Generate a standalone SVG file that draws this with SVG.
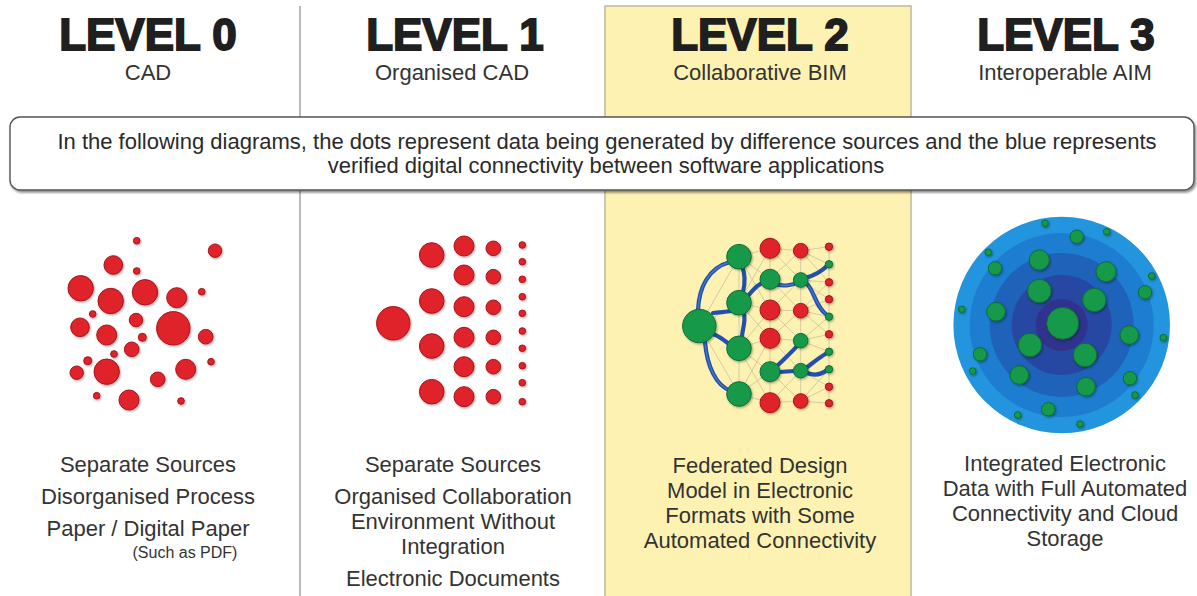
<svg xmlns="http://www.w3.org/2000/svg" width="1197" height="596" viewBox="0 0 1197 596">
  <style>
    .head { font-family: "Liberation Sans", Arial, sans-serif; font-weight: bold; font-size: 44px; fill: #1f1f1f; stroke: #1f1f1f; stroke-width: 1.8px; text-anchor: middle; }
    .sub { font-family: "Liberation Sans", Arial, sans-serif; font-size: 22px; fill: #333; text-anchor: middle; }
    .body { font-family: "Liberation Sans", Arial, sans-serif; font-size: 22px; fill: #333; text-anchor: middle; }
    .small { font-family: "Liberation Sans", Arial, sans-serif; font-size: 16px; fill: #333; text-anchor: middle; }
    .note { font-family: "Liberation Sans", Arial, sans-serif; font-size: 22px; fill: #2a2a2a; text-anchor: middle; }
    .divider { stroke: #a3a3a3; stroke-width: 1.5; }
    .red { fill: #e0222b; stroke: #a5161c; stroke-width: 1; }
    .green { fill: #17994a; stroke: #0f6e33; stroke-width: 1; }
    .mesh { stroke: #c9c2a0; stroke-width: 0.8; fill: none; }
    .link { stroke: #2350ab; stroke-width: 4.2; fill: none; stroke-linecap: round; }
    .linkhi { stroke: #4a82d6; stroke-width: 1.3; fill: none; stroke-linecap: round; opacity: 0.8; }
  </style>
  <defs>
    <filter id="dotShadow" x="-30%" y="-30%" width="160%" height="160%">
      <feDropShadow dx="1" dy="1.2" stdDeviation="1" flood-color="#000" flood-opacity="0.35"/>
    </filter>
    <filter id="boxShadow" x="-5%" y="-20%" width="110%" height="150%">
      <feDropShadow dx="1.5" dy="2" stdDeviation="1.2" flood-color="#000" flood-opacity="0.45"/>
    </filter>
  </defs>

  <!-- background and column dividers -->
  <rect width="1197" height="596" fill="#ffffff"/>
  <rect id="level2-band" x="605" y="6" width="306" height="592" fill="#fdf2b2" stroke="#bdb89c" stroke-width="1.5"/>
  <line class="divider" x1="300" y1="6" x2="300" y2="596"/>

  <!-- column headings -->
  <g id="headings">
    <text class="head" x="148" y="50">LEVEL 0</text>
    <text class="sub" x="148" y="80">CAD</text>
    <text class="head" x="455" y="50">LEVEL 1</text>
    <text class="sub" x="452" y="80">Organised CAD</text>
    <text class="head" x="760" y="50">LEVEL 2</text>
    <text class="sub" x="760" y="80">Collaborative BIM</text>
    <text class="head" x="1066" y="50">LEVEL 3</text>
    <text class="sub" x="1065" y="80">Interoperable AIM</text>
  </g>

  <!-- explanatory banner -->
  <g id="banner">
    <rect x="10" y="117" width="1184" height="73" rx="10" fill="#ffffff" stroke="#555" stroke-width="1.4" filter="url(#boxShadow)"/>
    <text class="note" x="607" y="149">In the following diagrams, the dots represent data being generated by difference sources and the blue represents</text>
    <text class="note" x="606" y="173">verified digital connectivity between software applications</text>
  </g>

  <!-- Level 0: scattered sources -->
  <g id="level0-dots" filter="url(#dotShadow)">
    <circle class="red" cx="136.7" cy="240.7" r="3.3"/>
    <circle class="red" cx="215" cy="250.7" r="6.7"/>
    <circle class="red" cx="113.3" cy="265" r="9.3"/>
    <circle class="red" cx="136.7" cy="271" r="3.3"/>
    <circle class="red" cx="80.7" cy="288.3" r="12.7"/>
    <circle class="red" cx="110.7" cy="301" r="12.7"/>
    <circle class="red" cx="145" cy="292.3" r="12.7"/>
    <circle class="red" cx="176.7" cy="297.7" r="10"/>
    <circle class="red" cx="201.7" cy="291.7" r="3.3"/>
    <circle class="red" cx="92.7" cy="314" r="3.3"/>
    <circle class="red" cx="136" cy="320" r="6.7"/>
    <circle class="red" cx="173.3" cy="328.3" r="16.7"/>
    <circle class="red" cx="80" cy="327.3" r="9.3"/>
    <circle class="red" cx="106.7" cy="335" r="10"/>
    <circle class="red" cx="142.3" cy="337.3" r="4"/>
    <circle class="red" cx="205.7" cy="336.7" r="7.3"/>
    <circle class="red" cx="131.7" cy="349.3" r="7.3"/>
    <circle class="red" cx="114" cy="354" r="3.3"/>
    <circle class="red" cx="87.7" cy="360.7" r="4"/>
    <circle class="red" cx="106.7" cy="371.7" r="12.7"/>
    <circle class="red" cx="76.7" cy="372.7" r="6.7"/>
    <circle class="red" cx="185.7" cy="369.3" r="10"/>
    <circle class="red" cx="211" cy="361.7" r="3.3"/>
    <circle class="red" cx="157.7" cy="379.3" r="7.3"/>
    <circle class="red" cx="96.7" cy="395.7" r="3.3"/>
    <circle class="red" cx="129" cy="400" r="10"/>
    <circle class="red" cx="181" cy="401" r="3.3"/>
  </g>

  <!-- Level 1: organised columns -->
  <g id="level1-dots" filter="url(#dotShadow)">
    <circle class="red" cx="393.3" cy="323.3" r="16.7"/>
    <circle class="red" cx="431.7" cy="255" r="12.3"/>
    <circle class="red" cx="431.7" cy="301" r="12.3"/>
    <circle class="red" cx="431.7" cy="346" r="12.3"/>
    <circle class="red" cx="431.7" cy="391.7" r="12.3"/>
    <circle class="red" cx="464" cy="246" r="10"/>
    <circle class="red" cx="464" cy="275" r="10"/>
    <circle class="red" cx="464" cy="306.7" r="10"/>
    <circle class="red" cx="464" cy="337.3" r="10"/>
    <circle class="red" cx="464" cy="366.7" r="10"/>
    <circle class="red" cx="464" cy="396.7" r="10"/>
    <circle class="red" cx="493.3" cy="248.3" r="7.3"/>
    <circle class="red" cx="493.3" cy="276.7" r="7.3"/>
    <circle class="red" cx="493.3" cy="307.3" r="7.3"/>
    <circle class="red" cx="493.3" cy="337.3" r="7.3"/>
    <circle class="red" cx="493.3" cy="366.7" r="7.3"/>
    <circle class="red" cx="493.3" cy="396.7" r="7.3"/>
    <circle class="red" cx="522.3" cy="245" r="3.3"/>
    <circle class="red" cx="522.3" cy="261.7" r="3.3"/>
    <circle class="red" cx="522.3" cy="279.3" r="3.3"/>
    <circle class="red" cx="522.3" cy="296.7" r="3.3"/>
    <circle class="red" cx="522.3" cy="313.3" r="3.3"/>
    <circle class="red" cx="522.3" cy="331" r="3.3"/>
    <circle class="red" cx="522.3" cy="348.3" r="3.3"/>
    <circle class="red" cx="522.3" cy="365.7" r="3.3"/>
    <circle class="red" cx="522.3" cy="382.7" r="3.3"/>
    <circle class="red" cx="522.3" cy="401.7" r="3.3"/>
  </g>

  <!-- Level 2: federated network -->
  <g id="level2-connectors">
    <g class="mesh">
      <!-- hub to first column -->
      <line x1="699.3" y1="326" x2="739" y2="256.7"/>
      <line x1="699.3" y1="326" x2="739" y2="302.7"/>
      <line x1="699.3" y1="326" x2="739" y2="348.3"/>
      <line x1="699.3" y1="326" x2="739" y2="394"/>
      <!-- vertical chains -->
      <line x1="739" y1="256.7" x2="739" y2="394"/>
      <line x1="770" y1="248.3" x2="770" y2="402.7"/>
      <line x1="800.7" y1="250.7" x2="800.7" y2="401"/>
      <line x1="829" y1="246.7" x2="829" y2="403.3"/>
      <!-- first column to second -->
      <line x1="739" y1="256.7" x2="770" y2="248.3"/>
      <line x1="739" y1="256.7" x2="770" y2="279.3"/>
      <line x1="739" y1="256.7" x2="770" y2="310"/>
      <line x1="739" y1="302.7" x2="770" y2="248.3"/>
      <line x1="739" y1="302.7" x2="770" y2="279.3"/>
      <line x1="739" y1="302.7" x2="770" y2="310"/>
      <line x1="739" y1="302.7" x2="770" y2="338.3"/>
      <line x1="739" y1="348.3" x2="770" y2="310"/>
      <line x1="739" y1="348.3" x2="770" y2="338.3"/>
      <line x1="739" y1="348.3" x2="770" y2="371.7"/>
      <line x1="739" y1="348.3" x2="770" y2="402.7"/>
      <line x1="739" y1="394" x2="770" y2="371.7"/>
      <line x1="739" y1="394" x2="770" y2="402.7"/>
      <line x1="739" y1="394" x2="770" y2="338.3"/>
      <!-- second column to third -->
      <line x1="770" y1="248.3" x2="800.7" y2="250.7"/>
      <line x1="770" y1="248.3" x2="800.7" y2="280"/>
      <line x1="770" y1="279.3" x2="800.7" y2="250.7"/>
      <line x1="770" y1="279.3" x2="800.7" y2="310.7"/>
      <line x1="770" y1="310" x2="800.7" y2="280"/>
      <line x1="770" y1="310" x2="800.7" y2="310.7"/>
      <line x1="770" y1="310" x2="800.7" y2="340.7"/>
      <line x1="770" y1="338.3" x2="800.7" y2="310.7"/>
      <line x1="770" y1="338.3" x2="800.7" y2="340.7"/>
      <line x1="770" y1="338.3" x2="800.7" y2="370.7"/>
      <line x1="770" y1="371.7" x2="800.7" y2="401"/>
      <line x1="770" y1="402.7" x2="800.7" y2="370.7"/>
      <line x1="770" y1="402.7" x2="800.7" y2="401"/>
      <!-- third column to fourth -->
      <line x1="800.7" y1="250.7" x2="829" y2="246.7"/>
      <line x1="800.7" y1="250.7" x2="829" y2="264.3"/>
      <line x1="800.7" y1="250.7" x2="829" y2="282.3"/>
      <line x1="800.7" y1="280" x2="829" y2="282.3"/>
      <line x1="800.7" y1="280" x2="829" y2="299.3"/>
      <line x1="800.7" y1="310.7" x2="829" y2="282.3"/>
      <line x1="800.7" y1="310.7" x2="829" y2="299.3"/>
      <line x1="800.7" y1="310.7" x2="829" y2="316.7"/>
      <line x1="800.7" y1="310.7" x2="829" y2="334.3"/>
      <line x1="800.7" y1="340.7" x2="829" y2="316.7"/>
      <line x1="800.7" y1="340.7" x2="829" y2="334.3"/>
      <line x1="800.7" y1="340.7" x2="829" y2="351.7"/>
      <line x1="800.7" y1="370.7" x2="829" y2="386.7"/>
      <line x1="800.7" y1="401" x2="829" y2="386.7"/>
      <line x1="800.7" y1="401" x2="829" y2="403.3"/>
      <line x1="800.7" y1="401" x2="829" y2="369.3"/>
    </g>
    <!-- verified software links -->
    <g id="level2-links">
      <path class="link" d="M698,310 C699,288 708,268 730,262"/>
      <path class="link" d="M742,266 C746,276 745,284 743,292"/>
      <path class="link" d="M713,313 C720,312 727,312 731,311"/>
      <path class="link" d="M744,314 C746,322 742,330 742,337"/>
      <path class="link" d="M713,334 C719,336 724,340 729,344"/>
      <path class="link" d="M705,342 C707,366 716,386 731,391"/>
      <path class="link" d="M748,296 C756,286 760,283 766,282"/>
      <path class="link" d="M776,284 C784,287 793,285 798,282"/>
      <path class="link" d="M805,278 C813,276 821,272 828,265"/>
      <path class="link" d="M805,282 C814,288 815,307 827,315"/>
      <path class="link" d="M777,366 C785,358 792,352 797,346"/>
      <path class="link" d="M779,372 L795,371"/>
      <path class="link" d="M806,368 C814,362 820,357 827,353"/>
      <path class="link" d="M807,373 C815,376 822,374 827,370"/>
      <g>
        <path class="linkhi" d="M698,310 C699,288 708,268 730,262"/>
        <path class="linkhi" d="M705,342 C707,366 716,386 731,391"/>
        <path class="linkhi" d="M805,282 C814,288 815,307 827,315"/>
        <path class="linkhi" d="M776,284 C784,287 793,285 798,282"/>
      </g>
    </g>
  </g>
  <g id="level2-nodes" filter="url(#dotShadow)">
    <circle class="green" cx="699.3" cy="326" r="16.7"/>
    <circle class="green" cx="739" cy="256.7" r="12.3"/>
    <circle class="green" cx="739" cy="302.7" r="12.3"/>
    <circle class="green" cx="739" cy="348.3" r="12.3"/>
    <circle class="green" cx="739" cy="394" r="12.3"/>
    <circle class="red" cx="770" cy="248.3" r="10"/>
    <circle class="green" cx="770" cy="279.3" r="10"/>
    <circle class="red" cx="770" cy="310" r="10"/>
    <circle class="red" cx="770" cy="338.3" r="10"/>
    <circle class="green" cx="770" cy="371.7" r="10"/>
    <circle class="red" cx="770" cy="402.7" r="10"/>
    <circle class="red" cx="800.7" cy="250.7" r="7.3"/>
    <circle class="green" cx="800.7" cy="280" r="7.3"/>
    <circle class="red" cx="800.7" cy="310.7" r="7.3"/>
    <circle class="green" cx="800.7" cy="340.7" r="7.3"/>
    <circle class="green" cx="800.7" cy="370.7" r="7.3"/>
    <circle class="red" cx="800.7" cy="401" r="7.3"/>
    <circle class="red" cx="829" cy="246.7" r="3.7"/>
    <circle class="green" cx="829" cy="264.3" r="3.7"/>
    <circle class="red" cx="829" cy="282.3" r="3.7"/>
    <circle class="red" cx="829" cy="299.3" r="3.7"/>
    <circle class="green" cx="829" cy="316.7" r="3.7"/>
    <circle class="red" cx="829" cy="334.3" r="3.7"/>
    <circle class="green" cx="829" cy="351.7" r="3.7"/>
    <circle class="green" cx="829" cy="369.3" r="3.7"/>
    <circle class="red" cx="829" cy="386.7" r="3.7"/>
    <circle class="red" cx="829" cy="403.3" r="3.7"/>
  </g>

  <!-- Level 3: integrated cloud -->
  <g id="level3-cloud">
    <circle cx="1061.7" cy="325" r="108.3" fill="#2394de"/>
    <circle cx="1061.7" cy="325" r="92" fill="#1d7dd0"/>
    <circle cx="1061.7" cy="325" r="72" fill="#1e62b9"/>
    <circle cx="1061.7" cy="325" r="50" fill="#2748a2"/>
    <circle cx="1061.7" cy="325" r="26" fill="#30338e"/>
  </g>
  <g id="level3-nodes" filter="url(#dotShadow)">
    <circle class="green" cx="1062.7" cy="323.3" r="16"/>
    <circle class="green" cx="1039.3" cy="260" r="10"/>
    <circle class="green" cx="1106" cy="271.7" r="10"/>
    <circle class="green" cx="1039.3" cy="291" r="11.7"/>
    <circle class="green" cx="1094.3" cy="300" r="11.7"/>
    <circle class="green" cx="996" cy="311.7" r="9.3"/>
    <circle class="green" cx="1129.3" cy="335" r="9.3"/>
    <circle class="green" cx="1030" cy="345" r="11.7"/>
    <circle class="green" cx="1085" cy="355" r="11.7"/>
    <circle class="green" cx="1019.3" cy="375" r="9.3"/>
    <circle class="green" cx="1086" cy="386.7" r="9.3"/>
    <circle class="green" cx="1076.7" cy="236.7" r="6.7"/>
    <circle class="green" cx="995" cy="268.3" r="6.7"/>
    <circle class="green" cx="1145" cy="292.3" r="6.7"/>
    <circle class="green" cx="980" cy="354.3" r="6.7"/>
    <circle class="green" cx="1130" cy="378.3" r="6.7"/>
    <circle class="green" cx="1048.3" cy="409.3" r="6.7"/>
    <circle class="green" cx="1045" cy="223.3" r="3.3"/>
    <circle class="green" cx="1106.7" cy="231.7" r="3.3"/>
    <circle class="green" cx="988.3" cy="252.3" r="3.3"/>
    <circle class="green" cx="1151.7" cy="276" r="3.3"/>
    <circle class="green" cx="961.7" cy="309.3" r="3.3"/>
    <circle class="green" cx="1163.3" cy="337.7" r="3.3"/>
    <circle class="green" cx="972.7" cy="371" r="3.3"/>
    <circle class="green" cx="1135" cy="395" r="3.3"/>
    <circle class="green" cx="1017.7" cy="415" r="3.3"/>
    <circle class="green" cx="1080" cy="424" r="3.3"/>
  </g>

  <!-- captions -->
  <g id="caption-level0">
    <text class="body" x="148" y="472">Separate Sources</text>
    <text class="body" x="148" y="504">Disorganised Process</text>
    <text class="body" x="148" y="536">Paper / Digital Paper</text>
    <text class="small" x="185" y="558">(Such as PDF)</text>
  </g>
  <g id="caption-level1">
    <text class="body" x="453" y="472">Separate Sources</text>
    <text class="body" x="453" y="504">Organised Collaboration</text>
    <text class="body" x="453" y="529">Environment Without</text>
    <text class="body" x="453" y="554">Integration</text>
    <text class="body" x="453" y="586">Electronic Documents</text>
  </g>
  <g id="caption-level2">
    <text class="body" x="760" y="473">Federated Design</text>
    <text class="body" x="760" y="498">Model in Electronic</text>
    <text class="body" x="760" y="523">Formats with Some</text>
    <text class="body" x="760" y="548">Automated Connectivity</text>
  </g>
  <g id="caption-level3">
    <text class="body" x="1065" y="471">Integrated Electronic</text>
    <text class="body" x="1065" y="496">Data with Full Automated</text>
    <text class="body" x="1065" y="521">Connectivity and Cloud</text>
    <text class="body" x="1065" y="546">Storage</text>
  </g>
</svg>
